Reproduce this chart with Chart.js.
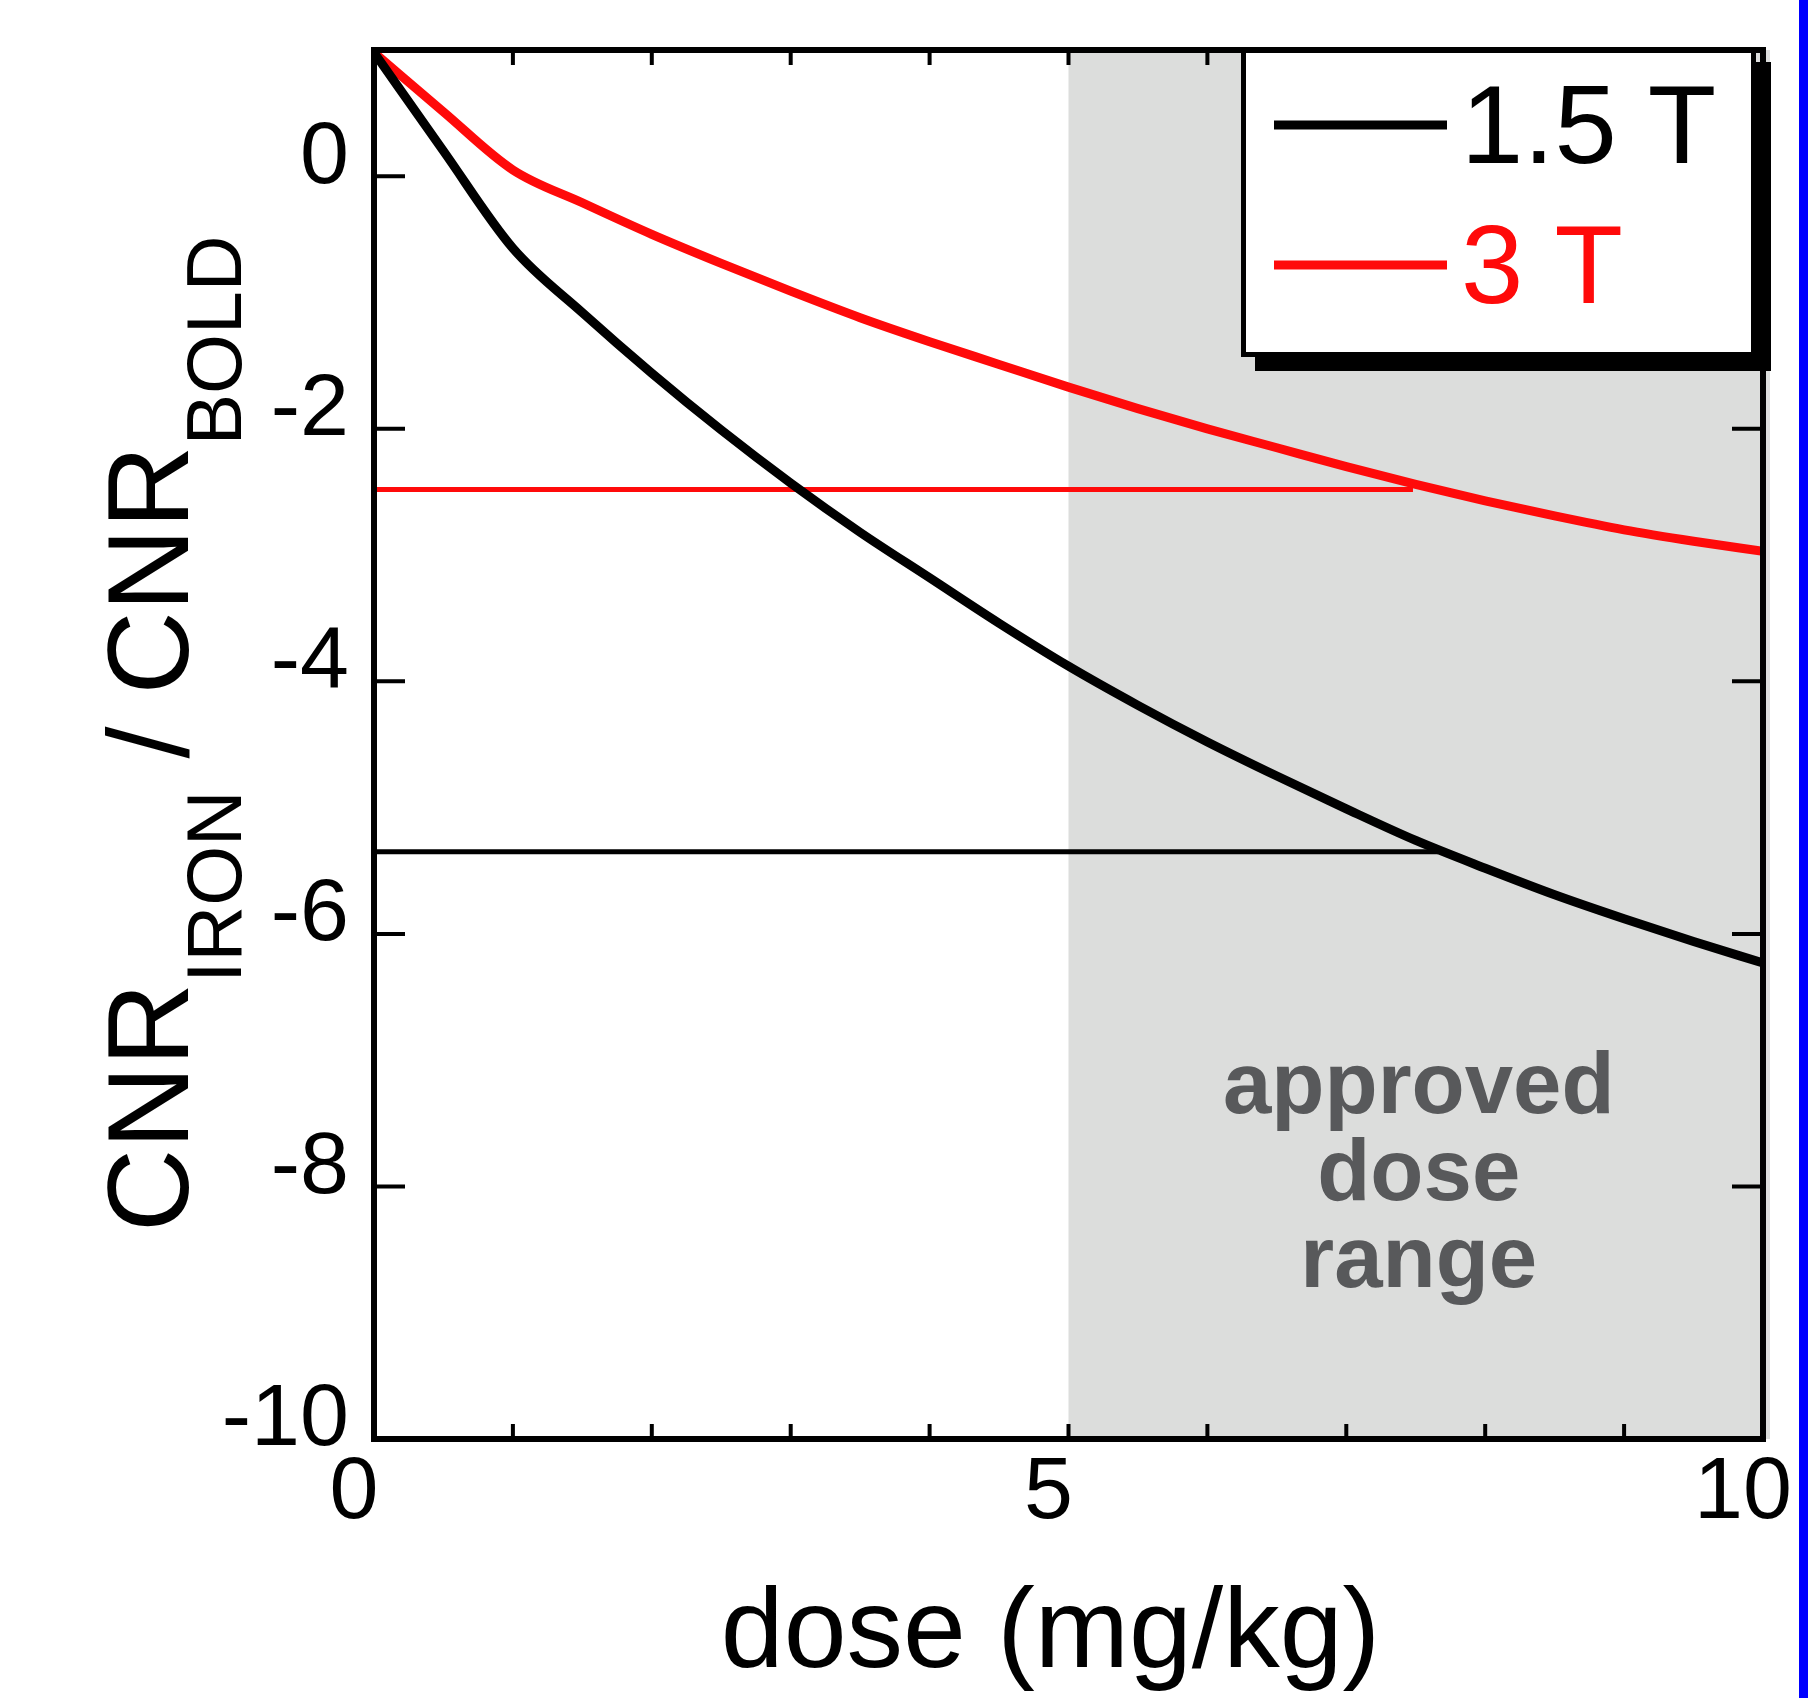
<!DOCTYPE html>
<html>
<head>
<meta charset="utf-8">
<script src="https://cdn.jsdelivr.net/npm/chart.js@4.4.0/dist/chart.umd.min.js"></script>
<style>
  html, body { margin: 0; padding: 0; background: #fff; }
  #wrap { width: 1808px; height: 1698px; }
</style>
</head>
<body>
<div id="wrap"><canvas id="myChart" width="1808" height="1698"></canvas></div>
<script>
// dose in mg/kg
var doses = [0, 0.5, 1, 1.5, 2, 2.5, 3, 3.5, 4, 4.5, 5, 5.5, 6, 6.5, 7, 7.5, 8, 8.5, 9, 9.5, 10];
// CNR_IRON / CNR_BOLD
var cnr15T = [0.98, 0.20, -0.57, -1.08, -1.56, -2.01, -2.43, -2.82, -3.18, -3.54, -3.88, -4.19, -4.48, -4.75, -5.01, -5.26, -5.48, -5.69, -5.88, -6.06, -6.23];
var cnr3T = [0.98, 0.51, 0.05, -0.21, -0.46, -0.69, -0.91, -1.12, -1.31, -1.49, -1.67, -1.84, -2.00, -2.15, -2.30, -2.44, -2.57, -2.69, -2.80, -2.89, -2.97];
var seriesLabels = ['1.5 T', '3 T'];
var seriesColors = ['#000000', '#ff0a0a'];

// horizontal reference lines
var refDoses15T = [0, 7.66];
var refLevel15T = -5.35;
var refDoses3T = [0, 7.48];
var refLevel3T = -2.48;

// shaded dose range + its note
var approvedRange = [5, 10];
var noteLines = ['approved', 'dose', 'range'];

var xLabelValues = [0, 5, 10];
var yTickValues = [-10, -8, -6, -4, -2, 0];

var FONT = "'Liberation Sans', Arial, Helvetica, sans-serif";

function toPoints(xs, ys) {
    return xs.map(function(x, i) { return { x: x, y: ys[i] }; });
}

var decorations = {
    id: 'decorations',
    beforeDatasetsDraw: function(chart) {
        var ctx = chart.ctx, ca = chart.chartArea;
        var xs = chart.scales.x, ys = chart.scales.y;
        var x0 = xs.getPixelForValue(approvedRange[0]);
        var x1 = xs.getPixelForValue(approvedRange[1]);
        ctx.save();
        ctx.fillStyle = '#dcdddc';
        ctx.fillRect(x0, ca.top, x1 - x0 + 7, ca.bottom - ca.top);

        // note inside the shaded range
        ctx.fillStyle = '#58595b';
        ctx.font = 'bold 87px ' + FONT;
        ctx.textAlign = 'center';
        ctx.textBaseline = 'alphabetic';
        var cx = xs.getPixelForValue(7.5) + 3;
        var y0 = ys.getPixelForValue(-7.42);
        noteLines.forEach(function(t, i) {
            ctx.fillText(t, cx, y0 + i * 87);
        });
        ctx.restore();
    },
    afterDatasetsDraw: function(chart) {
        var ctx = chart.ctx, ca = chart.chartArea;
        var xs = chart.scales.x, ys = chart.scales.y;
        ctx.save();
        ctx.strokeStyle = '#000';
        ctx.lineWidth = 6;
        ctx.strokeRect(ca.left, ca.top, ca.right - ca.left, ca.bottom - ca.top);

        // inward tick marks
        ctx.lineWidth = 4;
        ctx.beginPath();
        for (var i = 1; i < 10; i++) {
            var px = xs.getPixelForValue(i);
            ctx.moveTo(px, ca.bottom); ctx.lineTo(px, ca.bottom - 15);
            ctx.moveTo(px, ca.top); ctx.lineTo(px, ca.top + 15);
        }
        yTickValues.forEach(function(v) {
            if (v === -10) return;
            var py = ys.getPixelForValue(v);
            ctx.moveTo(ca.left, py); ctx.lineTo(ca.left + 31, py);
            ctx.moveTo(ca.right, py); ctx.lineTo(ca.right - 31, py);
        });
        ctx.stroke();
        ctx.restore();
    },
    afterDraw: function(chart) {
        var ctx = chart.ctx, ca = chart.chartArea;
        ctx.save();

        // legend box with drop shadow
        var bx = ca.right - 522, by = ca.top - 2, bw = 515, bh = 309;
        ctx.fillStyle = '#000';
        ctx.fillRect(bx + 14, by + 14, bw + 1, bh);
        ctx.fillRect(bx, by, bw, bh);
        ctx.fillStyle = '#fff';
        ctx.fillRect(bx + 5, by + 5, bw - 10, bh - 10);

        ctx.font = '112px ' + FONT;
        ctx.textAlign = 'left';
        ctx.textBaseline = 'alphabetic';
        seriesLabels.forEach(function(lbl, i) {
            var ly = by + 77 + i * 140;
            ctx.strokeStyle = seriesColors[i];
            ctx.lineWidth = 9;
            ctx.beginPath();
            ctx.moveTo(bx + 33, ly); ctx.lineTo(bx + 206, ly);
            ctx.stroke();
            ctx.fillStyle = seriesColors[i];
            ctx.fillText(lbl, bx + 220, ly + 38);
        });

        // x axis title
        ctx.fillStyle = '#000';
        ctx.font = '113px ' + FONT;
        ctx.textAlign = 'center';
        ctx.fillText('dose (mg/kg)', (ca.left + ca.right) / 2 - 18, ca.bottom + 228);

        // y axis title with subscripts
        ctx.translate(ca.left - 186, ca.bottom - 207);
        ctx.rotate(-Math.PI / 2);
        ctx.textAlign = 'left';
        var parts = [['CNR', 115, 0], ['IRON', 77, 53], [' / ', 115, 0], ['CNR', 115, 0], ['BOLD', 77, 53]];
        var pos = 0;
        parts.forEach(function(p) {
            ctx.font = p[1] + 'px ' + FONT;
            ctx.fillText(p[0], pos, p[2]);
            pos += ctx.measureText(p[0]).width;
        });
        ctx.restore();

        // blue strip at the right edge
        ctx.save();
        ctx.fillStyle = '#0000ff';
        ctx.fillRect(chart.width - 9, 0, 9, chart.height);
        ctx.restore();
    }
};

var ctx = document.getElementById('myChart').getContext('2d');
var chart = new Chart(ctx, {
    type: 'line',
    data: {
        datasets: [
            {
                label: seriesLabels[0],
                data: toPoints(doses, cnr15T),
                borderColor: seriesColors[0],
                borderWidth: 9,
                cubicInterpolationMode: 'monotone'
            },
            {
                label: seriesLabels[1],
                data: toPoints(doses, cnr3T),
                borderColor: seriesColors[1],
                borderWidth: 9,
                cubicInterpolationMode: 'monotone'
            },
            {
                label: 'ref 1.5 T',
                data: toPoints(refDoses15T, [refLevel15T, refLevel15T]),
                borderColor: seriesColors[0],
                borderWidth: 5
            },
            {
                label: 'ref 3 T',
                data: toPoints(refDoses3T, [refLevel3T, refLevel3T]),
                borderColor: seriesColors[1],
                borderWidth: 5
            }
        ]
    },
    options: {
        responsive: false,
        animation: false,
        layout: { padding: { top: 50, right: 45, left: 0, bottom: 0 } },
        elements: { point: { radius: 0 } },
        plugins: {
            legend: { display: false },
            tooltip: { enabled: false }
        },
        scales: {
            x: {
                type: 'linear',
                min: 0,
                max: 10,
                grid: { display: false, drawTicks: false },
                border: { display: false },
                ticks: {
                    stepSize: 1,
                    autoSkip: false,
                    maxRotation: 0,
                    padding: 2,
                    labelOffset: -20,
                    color: '#000',
                    font: { size: 88, family: FONT },
                    callback: function(v) {
                        return xLabelValues.indexOf(v) >= 0 ? String(v) : '';
                    }
                },
                afterFit: function(s) {
                    s.height = 259;
                    s.paddingLeft = 0;
                    s.paddingRight = 0;
                }
            },
            y: {
                type: 'linear',
                min: -10,
                max: 1,
                grid: { display: false, drawTicks: false },
                border: { display: false },
                afterBuildTicks: function(s) {
                    s.ticks = yTickValues.map(function(v) { return { value: v }; });
                },
                ticks: {
                    padding: 25,
                    labelOffset: -18,
                    color: '#000',
                    font: { size: 88, family: FONT }
                },
                afterFit: function(s) {
                    s.width = 374;
                    s.paddingTop = 0;
                    s.paddingBottom = 0;
                }
            }
        }
    },
    plugins: [decorations]
});
</script>
</body>
</html>
